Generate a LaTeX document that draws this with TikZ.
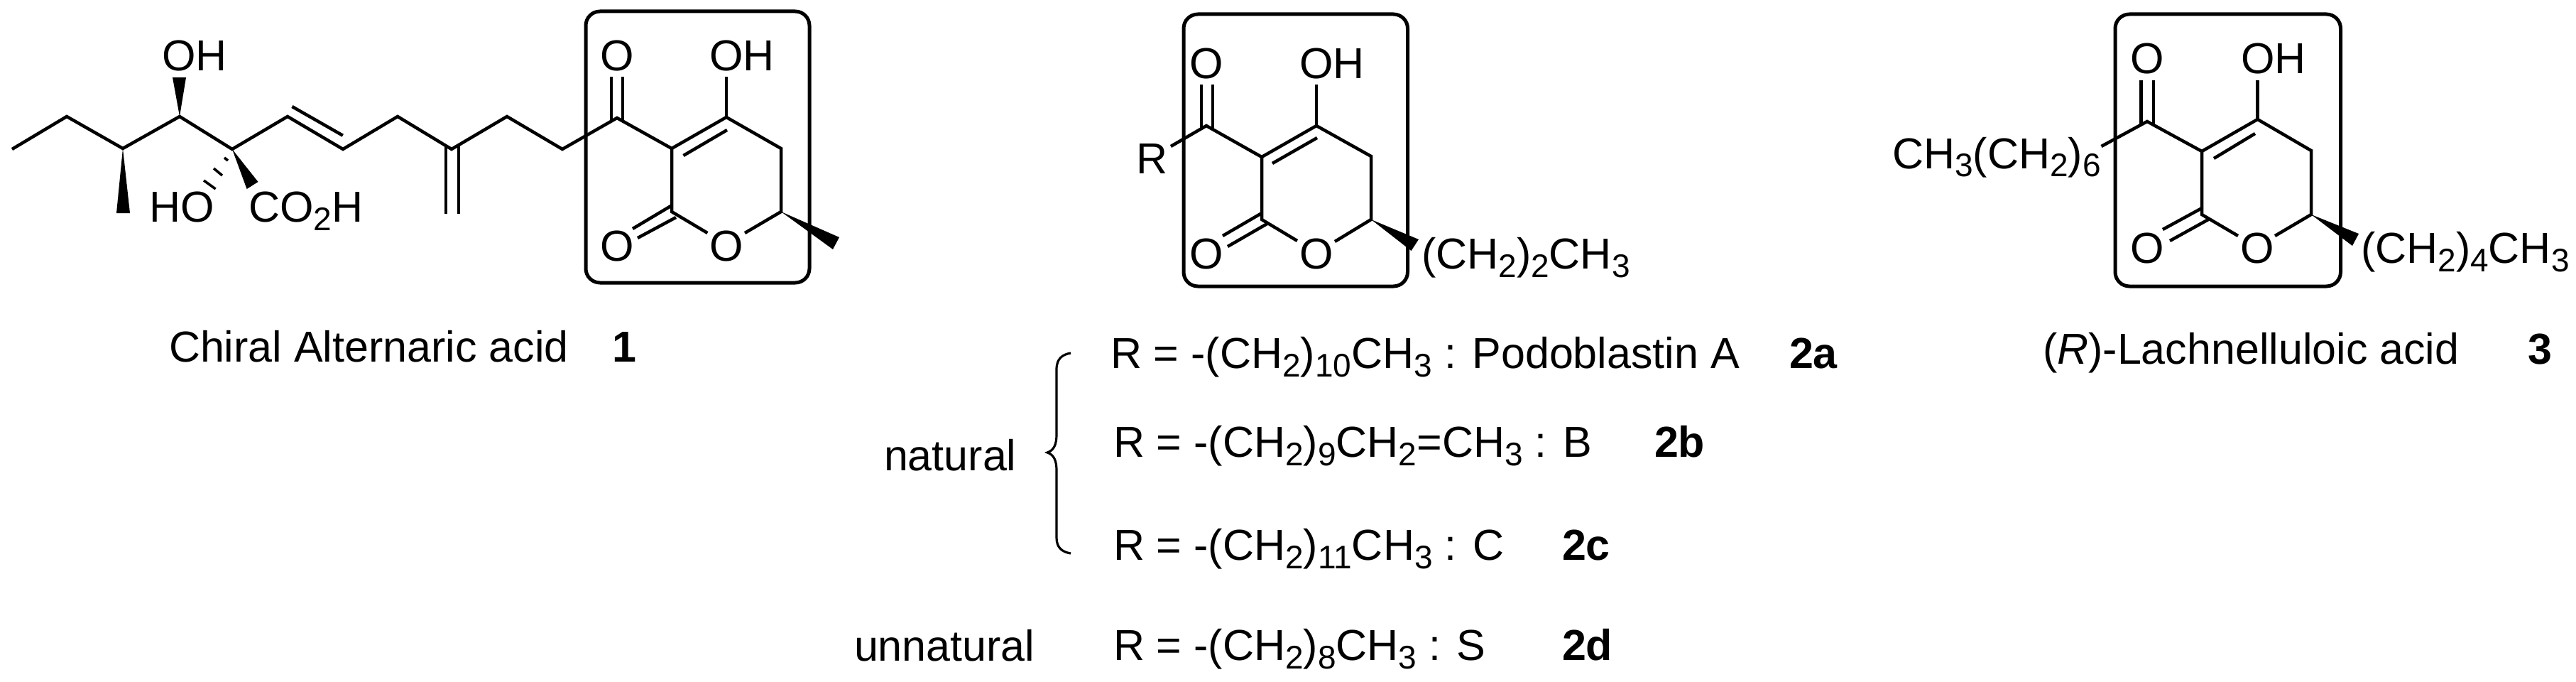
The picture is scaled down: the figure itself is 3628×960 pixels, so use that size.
\documentclass[tikz,border=0pt]{standalone}
\usepackage{fontspec}
\setmainfont{Liberation Sans}
\newcommand{\chemsub}[1]{\raisebox{-12pt}{\fontsize{46}{46}\selectfont #1}}
\tikzset{
  bond/.style={line width=4.5pt,line join=miter,line cap=butt},
  wedgebond/.style={fill=black,draw=none},
  framebox/.style={line width=5pt,rounded corners=20pt},
  bracepath/.style={line width=3.2pt},
  chem/.style={inner sep=0pt,outer sep=0pt,anchor=base west,font=\fontsize{61}{61}\selectfont},
  atom/.style={inner sep=0pt,outer sep=0pt,anchor=base,font=\fontsize{61}{61}\selectfont},
  tag/.style={chem,font=\fontsize{61}{61}\selectfont\bfseries}
}
\begin{document}
\begin{tikzpicture}[x=1pt,y=-1pt]
\fill[white] (0,0) rectangle (3628,960);
\useasboundingbox (0,0) rectangle (3628,960);

% ---------- compound 1 ----------
\draw[framebox] (825,16) rectangle (1140,398);
\coordinate (a0) at (17,210); \coordinate (a1) at (94,164); \coordinate (a2) at (173,209);
\coordinate (a3) at (253,164); \coordinate (a4) at (327,210); \coordinate (a5) at (405,164);
\coordinate (a6) at (483,210); \coordinate (a7) at (560,164); \coordinate (a8) at (636,210);
\coordinate (a9) at (714,164); \coordinate (a10) at (792,210); \coordinate (a11) at (869,166);
\coordinate (a12) at (946,209); \coordinate (a13) at (1023,165); \coordinate (a14) at (1100,209);
\coordinate (a15) at (1100,298); \coordinate (a16) at (946,298);
\coordinate (a1e) at (996.4,328); \coordinate (a2e) at (1049,328);
\draw[bond] (a0)--(a1)--(a2)--(a3)--(a4)--(a5)--(a6)--(a7)--(a8)--(a9)--(a10)--(a11)--(a12)--(a13)--(a14)--(a15)--(a2e);
\draw[bond] (a12)--(a16)--(a1e);
% alkene and exo methylene
\coordinate (d1a) at (411.4,150); \coordinate (d1b) at (482.8,190.7);
\draw[bond] (d1a)--(d1b);
\coordinate (d2a) at (628,205); \coordinate (d2b) at (628,300.7);
\coordinate (d3a) at (646,205); \coordinate (d3b) at (646,300.7);
\draw[bond] (d2a)--(d2b); \draw[bond] (d3a)--(d3b);
% carbonyl
\coordinate (d4a) at (861,170.6); \coordinate (d4b) at (861,108);
\coordinate (d5a) at (877,170.6); \coordinate (d5b) at (877,108);
\draw[bond] (d4a)--(d4b); \draw[bond] (d5a)--(d5b);
\coordinate (d6) at (1023,108); \draw[bond] (a13)--(d6);
\coordinate (d7a) at (962.5,219); \coordinate (d7b) at (1024,183);
\draw[bond] (d7a)--(d7b);
\coordinate (d8a) at (891,322); \coordinate (d8b) at (946.4,289);
\coordinate (d9a) at (898,335); \coordinate (d9b) at (952,306);
\draw[bond] (d8a)--(d8b); \draw[bond] (d9a)--(d9b);
% wedges
\fill[wedgebond] (a3)--(243,109)--(262,109)--cycle;
\fill[wedgebond] (a2)--(164,300)--(183,300)--cycle;
\fill[wedgebond] (a4)--(363.5,256)--(347.6,266)--cycle;
\fill[wedgebond] (a15)--(1182,334)--(1173,351)--cycle;
% hashes
\draw[line width=3.6pt] (316,222)--(321,226);
\draw[line width=3.6pt] (301,237)--(313,247);
\draw[line width=3.6pt] (287,254)--(303.6,266);
% labels
\node[chem] (oh1) at (228,100) {OH};
\node[chem] (ho1) at (210,312) {HO};
\node[chem] (co2h) at (350,312) {CO\chemsub{2}H};
\node[atom] (o1a) at (869,100) {O};
\node[chem] (oh1b) at (999,100) {OH};
\node[atom] (o1b) at (869,367) {O};
\node[atom] (o1c) at (1023,367) {O};
\node[chem] (name1) at (238,509) {Chiral Alternaric acid};
\node[tag] (num1) at (862,509) {1};

% ---------- compound 2 ----------
\draw[framebox] (1667,20) rectangle (1982.5,403);
\coordinate (b0) at (1649,206); \coordinate (b1) at (1699,177); \coordinate (b2) at (1777,221);
\coordinate (b3) at (1854,177); \coordinate (b4) at (1931,220); \coordinate (b5) at (1931,309);
\coordinate (b6) at (1777,309); \coordinate (b1e) at (1827,339); \coordinate (b2e) at (1880,340);
\draw[bond] (b0)--(b1)--(b2)--(b3)--(b4)--(b5)--(b2e);
\draw[bond] (b2)--(b6)--(b1e);
\coordinate (e1a) at (1692,181); \coordinate (e1b) at (1692,119);
\coordinate (e2a) at (1708,181); \coordinate (e2b) at (1708,119);
\draw[bond] (e1a)--(e1b); \draw[bond] (e2a)--(e2b);
\coordinate (e3) at (1854,119); \draw[bond] (b3)--(e3);
\coordinate (e4a) at (1792,230); \coordinate (e4b) at (1855,194);
\draw[bond] (e4a)--(e4b);
\coordinate (e5a) at (1722,332); \coordinate (e5b) at (1777,300);
\coordinate (e6a) at (1729,347); \coordinate (e6b) at (1784.5,315);
\draw[bond] (e5a)--(e5b); \draw[bond] (e6a)--(e6b);
\fill[wedgebond] (b5)--(1998,337)--(1987.5,353)--cycle;
\node[chem] (r2) at (1600,244) {R};
\node[atom] (o2a) at (1699,111) {O};
\node[chem] (oh2) at (1830,111) {OH};
\node[atom] (o2b) at (1699,378) {O};
\node[atom] (o2c) at (1854,378) {O};
\node[chem] (tail2) at (2002,378) {(CH\chemsub{2})\chemsub{2}CH\chemsub{3}};

% ---------- compound 2 table ----------
\node[chem] (lna) at (1564,518) {R = -(CH\chemsub{2})\chemsub{10}CH\chemsub{3} : Podoblastin A};
\node[tag] (tga) at (2520,518) {2a};
\node[chem] (lnb) at (1568,643) {R = -(CH\chemsub{2})\chemsub{9}CH\chemsub{2}=CH\chemsub{3} : B};
\node[tag] (tgb) at (2330,643) {2b};
\node[chem] (lnc) at (1568,788) {R = -(CH\chemsub{2})\chemsub{11}CH\chemsub{3} : C};
\node[tag] (tgc) at (2200,788) {2c};
\node[chem] (lnd) at (1568,929) {R = -(CH\chemsub{2})\chemsub{8}CH\chemsub{3} : S};
\node[tag] (tgd) at (2200,929) {2d};
\node[chem] (nat) at (1245,662) {natural};
\node[chem] (unnat) at (1203,930) {unnatural};
\draw[bracepath] (1508,497) .. controls (1496,499) and (1488,505) .. (1488,520)
  -- (1488,612) .. controls (1488,626) and (1484,634) .. (1475,637)
  .. controls (1484,640) and (1488,648) .. (1488,662)
  -- (1488,757) .. controls (1488,771) and (1496,777) .. (1508,779);

% ---------- compound 3 ----------
\draw[framebox] (2979,20) rectangle (3296.5,403);
\coordinate (c0) at (2959.5,206); \coordinate (c1) at (3024,171); \coordinate (c2) at (3101,213);
\coordinate (c3) at (3179.5,168); \coordinate (c4) at (3255,212); \coordinate (c5) at (3255,302);
\coordinate (c6) at (3101,302); \coordinate (c1e) at (3152,332); \coordinate (c2e) at (3204,332);
\draw[bond] (c0)--(c1)--(c2)--(c3)--(c4)--(c5)--(c2e);
\draw[bond] (c2)--(c6)--(c1e);
\coordinate (f1a) at (3015.5,175); \coordinate (f1b) at (3015.5,113);
\coordinate (f2a) at (3033,175); \coordinate (f2b) at (3033,113);
\draw[bond] (f1a)--(f1b); \draw[bond] (f2a)--(f2b);
\coordinate (f3) at (3179.5,113); \draw[bond] (c3)--(f3);
\coordinate (f4a) at (3118,223); \coordinate (f4b) at (3176,188);
\draw[bond] (f4a)--(f4b);
\coordinate (f5a) at (3046,323); \coordinate (f5b) at (3101,293);
\coordinate (f6a) at (3056,339); \coordinate (f6b) at (3112,308);
\draw[bond] (f5a)--(f5b); \draw[bond] (f6a)--(f6b);
\fill[wedgebond] (c5)--(3322,329)--(3313,346)--cycle;
\node[atom] (o3a) at (3024,104) {O};
\node[chem] (oh3) at (3156,104) {OH};
\node[atom] (o3b) at (3024,370) {O};
\node[atom] (o3c) at (3179.5,370) {O};
\node[chem] (head3) at (2665,237) {CH\chemsub{3}(CH\chemsub{2})\chemsub{6}};
\node[chem] (tail3) at (3325,370) {(CH\chemsub{2})\chemsub{4}CH\chemsub{3}};
\node[chem] (name3) at (2877,512) {(\textit{R})-Lachnelluloic acid};
\node[tag] (num3) at (3560,512) {3};
\end{tikzpicture}
\end{document}
